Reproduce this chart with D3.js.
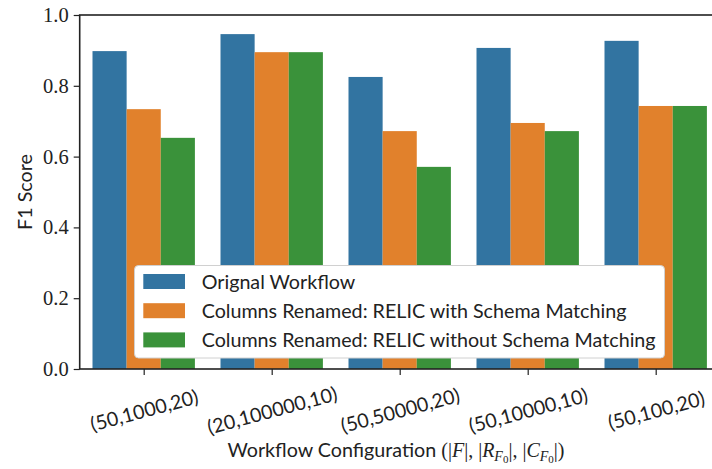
<!DOCTYPE html>
<html><head><meta charset="utf-8">
<script src="https://cdn.jsdelivr.net/npm/d3@7"></script>
<style>
body{margin:0;background:#fff;}
svg{display:block;}
</style></head>
<body><svg id="chart" width="712" height="469"></svg>
<script>
const categories = ["(50,1000,20)", "(20,100000,10)", "(50,50000,20)", "(50,10000,10)", "(50,100,20)"];
const seriesNames = ["Orignal Workflow", "Columns Renamed: RELIC with Schema Matching", "Columns Renamed: RELIC without Schema Matching"];
const original = [0.898, 0.946, 0.825, 0.907, 0.927];
const withSM = [0.734, 0.895, 0.672, 0.695, 0.743];
const withoutSM = [0.653, 0.895, 0.571, 0.672, 0.743];
const yTicks = [0.0, 0.2, 0.4, 0.6, 0.8, 1.0];
const colors = ["#3274a1", "#e1812c", "#3a923a"];

(function(){
const series = [original, withSM, withoutSM];
const svg = d3.select("#chart");
const pL = 79.7, pR = 719.7, pT = 15, pB = 369;
const sans = "Lato, 'DejaVu Sans', sans-serif";
const serif = "'Liberation Serif', serif";

// measure sans width for fitting
const probe = svg.append("text").attr("font-family", sans).attr("font-size", 20)
  .text("Columns Renamed: RELIC without Schema Matching");
const w20 = probe.node().getComputedTextLength();
probe.remove();
const fs = Math.max(12, Math.min(22, 20 * 454 / w20));

const step = (pR - pL) / categories.length;
const x0 = d3.scalePoint().domain(categories).range([pL + step/2, pR - step/2]);
const xs = d3.scaleBand().domain(d3.range(3)).range([-0.4*step, 0.4*step]);
const y = d3.scaleLinear().domain([0, 1]).range([pB, pT]);

const g = svg.append("g");
series.forEach((vals, si) => {
  g.selectAll(null).data(vals).enter().append("rect")
    .attr("x", (d, i) => x0(categories[i]) + xs(si))
    .attr("width", xs.bandwidth())
    .attr("y", d => y(d))
    .attr("height", d => pB - y(d))
    .attr("fill", colors[si]);
});

const ya = svg.append("g").attr("transform", `translate(${pL},0)`)
  .call(d3.axisLeft(y).tickValues(yTicks).tickFormat(d3.format(".1f")).tickSize(6).tickPadding(5));
ya.selectAll("text").attr("font-family", serif).attr("font-size", 20.5).attr("fill", "#222");
ya.select(".domain").remove();
ya.selectAll(".tick line").attr("stroke", "#222").attr("stroke-width", 1.2);

const xa = svg.append("g").attr("transform", `translate(0,${pB})`)
  .call(d3.axisBottom(x0).tickSize(6).tickSizeOuter(0));
xa.select(".domain").remove();
xa.selectAll(".tick line").attr("stroke", "#222").attr("stroke-width", 1.2);
xa.selectAll(".tick text").attr("font-family", sans).attr("font-size", fs).attr("fill", "#222")
  .attr("dy", null).attr("y", 0)
  .attr("text-anchor", "middle").attr("dominant-baseline", "central")
  .attr("transform", "translate(0,41) rotate(-15)");

svg.append("rect").attr("x", pL).attr("y", pT).attr("width", pR-pL).attr("height", pB-pT)
  .attr("fill", "none").attr("stroke", "#222").attr("stroke-width", 1.6);

svg.append("text").attr("transform", `translate(32,192) rotate(-90)`)
  .attr("text-anchor", "middle").attr("font-family", sans).attr("font-size", fs).attr("fill", "#222")
  .text("F1 Score");

const xl = svg.append("text").attr("x", 396).attr("y", 457).attr("text-anchor", "middle")
  .attr("font-family", sans).attr("font-size", fs).attr("fill", "#222");
xl.append("tspan").text("Workflow Configuration ");
const m = (t, it) => xl.append("tspan").attr("font-family", serif).attr("font-size", 20).attr("font-style", it ? "italic" : "normal").text(t);
const sub = (t, dy, f) => xl.append("tspan").attr("font-family", serif).attr("font-size", f).attr("font-style", "italic").attr("dy", dy).text(t);
m("(|", false); m("F", true); m("|, |", false); m("R", true);
sub("F", 4, 14); sub("0", 2, 11).attr("font-style", "normal");
xl.append("tspan").attr("dy", -6).attr("font-family", serif).attr("font-size", 20).text("|, |");
m("C", true); sub("F", 4, 14); sub("0", 2, 11).attr("font-style", "normal");
xl.append("tspan").attr("dy", -6).attr("font-family", serif).attr("font-size", 20).text("|)");

const lg = svg.append("g");
lg.append("rect").attr("x", 134.5).attr("y", 265.5).attr("width", 530).attr("height", 92.5)
  .attr("rx", 4).attr("fill", "#fff").attr("stroke", "#d0d0d0").attr("stroke-width", 1);
seriesNames.forEach((n, i) => {
  const yy = 274 + i * 29.2;
  lg.append("rect").attr("x", 143.3).attr("y", yy).attr("width", 41.7).attr("height", 15).attr("fill", colors[i]);
  lg.append("text").attr("x", 201.7).attr("y", yy + 7.5).attr("dominant-baseline", "central")
    .attr("font-family", sans).attr("font-size", fs).attr("fill", "#222").text(n);
});
})();
</script></body></html>
